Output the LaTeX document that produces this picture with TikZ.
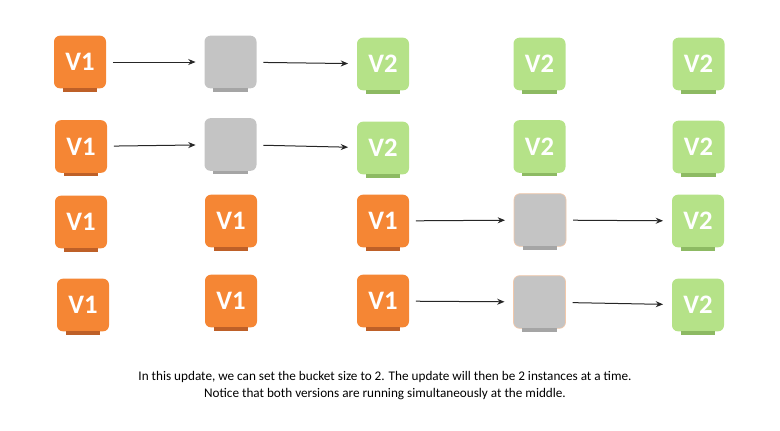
\documentclass[tikz,border=0pt]{standalone}
\usepackage{fontspec}
\setmainfont{Carlito}
\usetikzlibrary{arrows.meta}
\definecolor{orng}{RGB}{245,134,52}
\definecolor{orngsh}{RGB}{190,96,40}
\definecolor{gry}{RGB}{196,196,196}
\definecolor{grysh}{RGB}{165,165,165}
\definecolor{grn}{RGB}{181,226,136}
\definecolor{grnsh}{RGB}{141,186,99}
\definecolor{peach}{RGB}{242,200,170}
\tikzset{
  inst/.style={rounded corners=4.5pt, minimum width=39pt, minimum height=39.5pt,
    inner sep=0pt, text=white, font=\fontsize{20}{20}\selectfont\bfseries},
  vone/.style={inst, fill=orng},
  vtwo/.style={inst, fill=grn},
  empt/.style={inst, fill=gry},
  emptb/.style={inst, fill=gry, draw=peach, line width=0.5pt},
  arr/.style={draw=black!85, line width=0.75pt, -{Stealth[length=5.5pt,width=4.5pt]},
    shorten <=5pt, shorten >=6.5pt},
  captext/.style={font=\fontsize{9.9}{12}\selectfont, text=black, inner sep=0pt}
}
\newcommand{\shad}[2]{\fill[#2] ([xshift=-13pt,yshift=0.3pt]#1.south) rectangle ([xshift=13pt,yshift=-2.2pt]#1.south);}
\begin{document}
\begin{tikzpicture}[x=0.75pt,y=-0.75pt]
\path[use as bounding box] (0,0) rectangle (780,430);
% row 1
\node[vone] (a11) at (80,62) {V1};
\node[empt] (a12) at (230.5,62) {};
\node[vtwo] (a13) at (383,64) {V2};
\node[vtwo] (a14) at (539.5,64) {V2};
\node[vtwo] (a15) at (698.5,64) {V2};
% row 2
\node[vone] (a21) at (81,146.5) {V1};
\node[empt] (a22) at (230.5,144.5) {};
\node[vtwo] (a23) at (383,148) {V2};
\node[vtwo] (a24) at (539.5,146.5) {V2};
\node[vtwo] (a25) at (698.5,147) {V2};
% row 3
\node[vone] (a31) at (81,222) {V1};
\node[vone] (a32) at (231,221) {V1};
\node[vone] (a33) at (383,221) {V1};
\node[emptb] (a34) at (540,220) {};
\node[vtwo] (a35) at (698,221) {V2};
% row 4
\node[vone] (a41) at (83,305) {V1};
\node[vone] (a42) at (231,301) {V1};
\node[vone] (a43) at (383,301) {V1};
\node[emptb] (a44) at (539.5,302) {};
\node[vtwo] (a45) at (698,305) {V2};
% shadows
\foreach \n in {a11,a21,a31,a32,a33,a41,a42,a43} {\shad{\n}{orngsh}}
\foreach \n in {a12,a22,a34,a44} {\shad{\n}{grysh}}
\foreach \n in {a13,a14,a15,a23,a24,a25,a35,a45} {\shad{\n}{grnsh}}
% arrows
\draw[arr] (a11) -- (a12);
\draw[arr] (a12) -- (a13);
\draw[arr] (a21) -- (a22);
\draw[arr] (a22) -- (a23);
\draw[arr] (a33) -- (a34);
\draw[arr] (a34) -- (a35);
\draw[arr] (a43) -- (a44);
\draw[arr] (a44) -- (a45);
% caption
\node[captext] (t1) at (385,377) {In this update, we can set the bucket size to 2. The update will then be 2 instances at a time.};
\node[captext] (t2) at (385,394) {Notice that both versions are running simultaneously at the middle.};
\end{tikzpicture}
\end{document}
